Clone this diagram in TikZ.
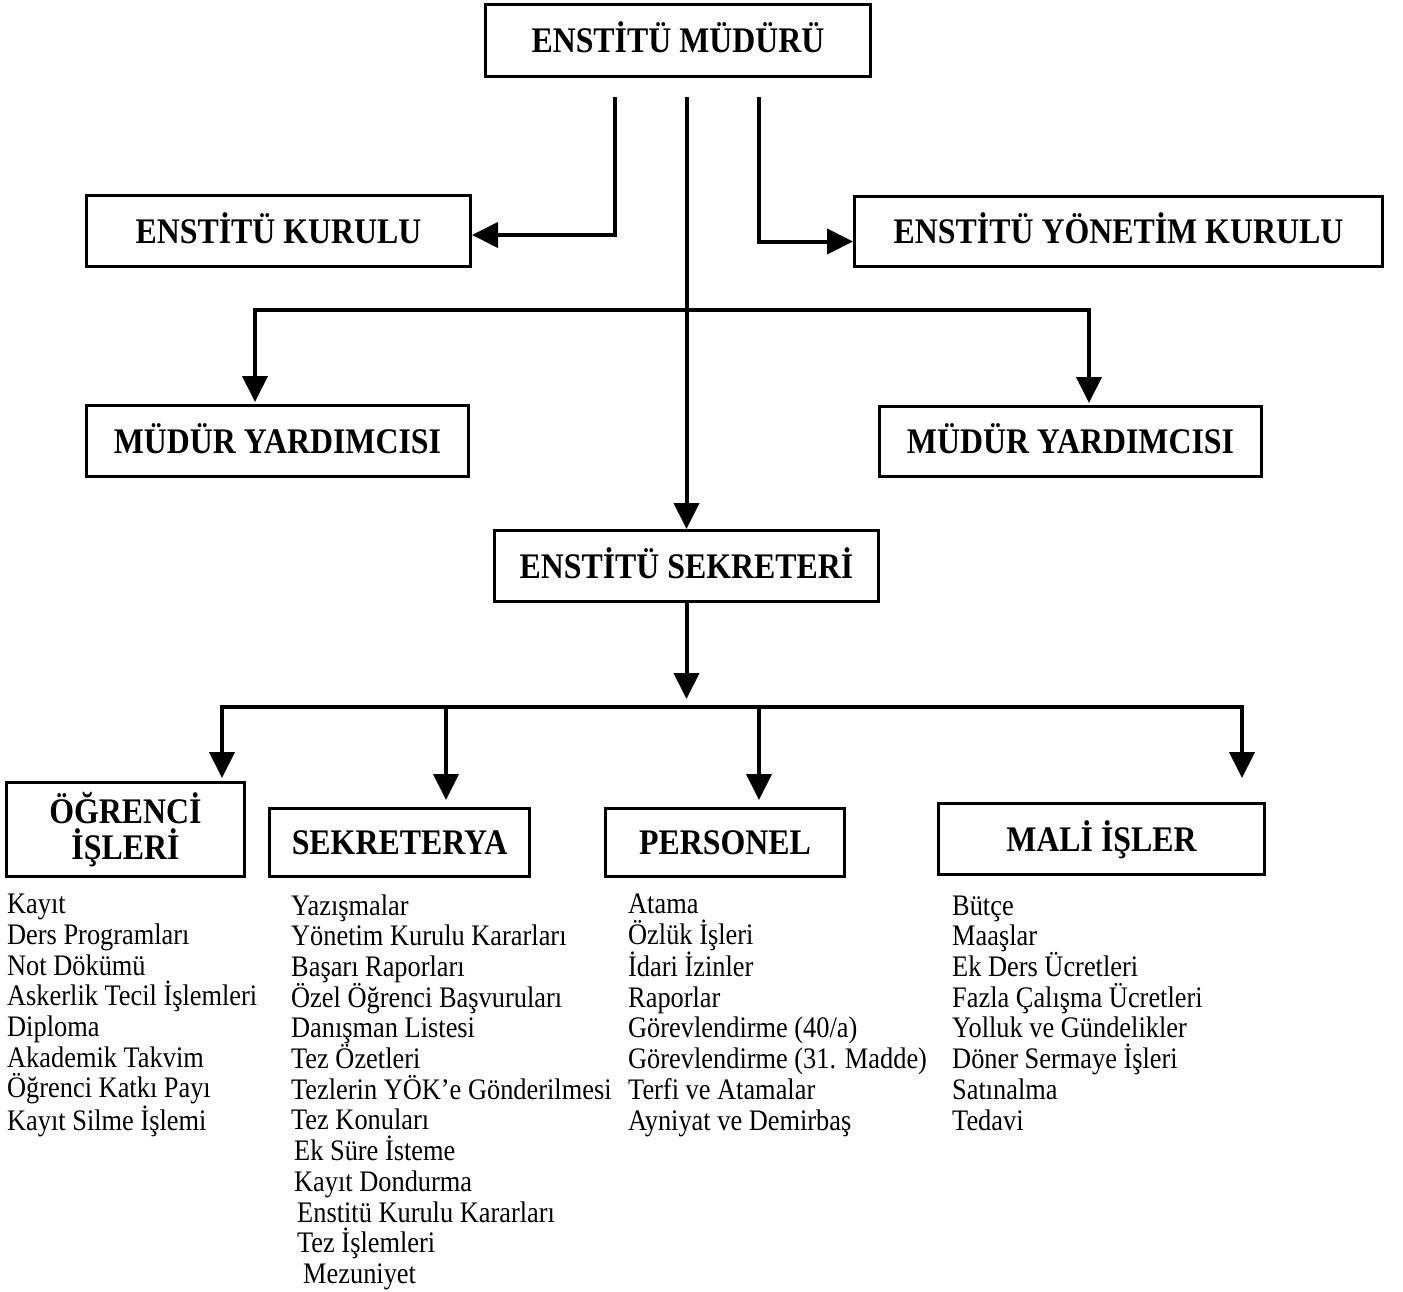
\documentclass[tikz,border=0pt]{standalone}
\usepackage{fontspec}
\setmainfont{Liberation Serif}[FakeStretch=0.885]
\usetikzlibrary{arrows.meta}

\begin{document}
\begin{tikzpicture}[x=1pt, y=-1pt,
  kutu/.style={draw, line width=3pt, inner sep=0pt, font=\fontsize{36}{36}\selectfont\bfseries, text height=24pt, text depth=0pt},
  ok/.style={line width=4pt, -{Triangle[length=26pt,width=25pt]}},
  liste/.style={anchor=base west, inner sep=0pt, align=left, font=\fontsize{29.8}{30.7}\selectfont}]
\useasboundingbox (0,0) rectangle (1403,1291);
\node[kutu, minimum width=385pt, minimum height=72pt] (mudur) at (678,40.5) {ENSTİTÜ MÜDÜRÜ};
\node[kutu, minimum width=384pt, minimum height=71pt] (kurulu) at (278.5,231) {ENSTİTÜ KURULU};
\node[kutu, minimum width=528pt, minimum height=70pt] (yonetim) at (1118.5,231.5) {ENSTİTÜ YÖNETİM KURULU};
\node[kutu, minimum width=382pt, minimum height=71pt] (yard1) at (277.5,441) {MÜDÜR YARDIMCISI};
\node[kutu, minimum width=382pt, minimum height=70pt] (yard2) at (1070.5,441.5) {MÜDÜR YARDIMCISI};
\node[kutu, minimum width=384pt, minimum height=71pt] (sekreter) at (686.5,566) {ENSTİTÜ SEKRETERİ};
\node[kutu, align=center, text height=60pt, minimum width=238pt, minimum height=94pt] (ogrenci) at (125.5,829.5) {ÖĞRENCİ\\İŞLERİ};
\node[kutu, minimum width=260pt, minimum height=68pt] (sekreterya) at (399.5,842.5) {SEKRETERYA};
\node[kutu, minimum width=239pt, minimum height=68pt] (personel) at (725,842.5) {PERSONEL};
\node[kutu, minimum width=326pt, minimum height=71pt] (mali) at (1101.5,839) {MALİ İŞLER};

% ust baglantilar
\coordinate (ust) at ([yshift=-19pt]mudur.south);
\draw[ok] ([xshift=-63pt]ust) |- ([yshift=-4pt]kurulu.east);
\draw[ok] ([xshift=81pt]ust) |- ([yshift=-10pt]yonetim.west);
\draw[ok] (ust -| sekreter.north) -- (sekreter.north);
\coordinate (ayrim) at (686.5,310);
\draw[ok, shorten >=2pt] (ayrim) -| ([xshift=-22.5pt]yard1.north);
\draw[ok, shorten >=2pt] (ayrim) -| ([xshift=18.5pt]yard2.north);

% alt birimler
\coordinate (bus) at (686.5,707);
\draw[ok] (sekreter.south) -- ([yshift=8pt]bus);
\draw[ok, shorten >=3pt] (bus) -| ([xshift=96.5pt]ogrenci.north);
\draw[ok, shorten >=7pt] (bus) -| ([xshift=46.5pt]sekreterya.north);
\draw[ok, shorten >=7pt] (bus) -| ([xshift=34pt]personel.north);
\draw[ok, shorten >=24pt] (bus) -| ([xshift=140.5pt]mali.north);

\node[liste] (l1) at (7,1130) {Kayıt\\Ders Programları\\Not Dökümü\\Askerlik Tecil İşlemleri\\Diploma\\Akademik Takvim\\Öğrenci Katkı Payı\\Kayıt Silme İşlemi};
\node[liste] (l2) at (291,1283.4) {Yazışmalar\\Yönetim Kurulu Kararları\\Başarı Raporları\\Özel Öğrenci Başvuruları\\Danışman Listesi\\Tez Özetleri\\Tezlerin YÖK’e Gönderilmesi\\Tez Konuları\\\hspace*{3pt}Ek Süre İsteme\\\hspace*{3pt}Kayıt Dondurma\\\hspace*{6pt}Enstitü Kurulu Kararları\\\hspace*{6pt}Tez İşlemleri\\\hspace*{12pt}Mezuniyet};
\node[liste] (l3) at (628,1130) {Atama\\Özlük İşleri\\İdari İzinler\\Raporlar\\Görevlendirme (40/a)\\Görevlendirme (31. Madde)\\Terfi ve Atamalar\\Ayniyat ve Demirbaş};
\node[liste] (l4) at (952,1130) {Bütçe\\Maaşlar\\Ek Ders Ücretleri\\Fazla Çalışma Ücretleri\\Yolluk ve Gündelikler\\Döner Sermaye İşleri\\Satınalma\\Tedavi};
\end{tikzpicture}
\end{document}
